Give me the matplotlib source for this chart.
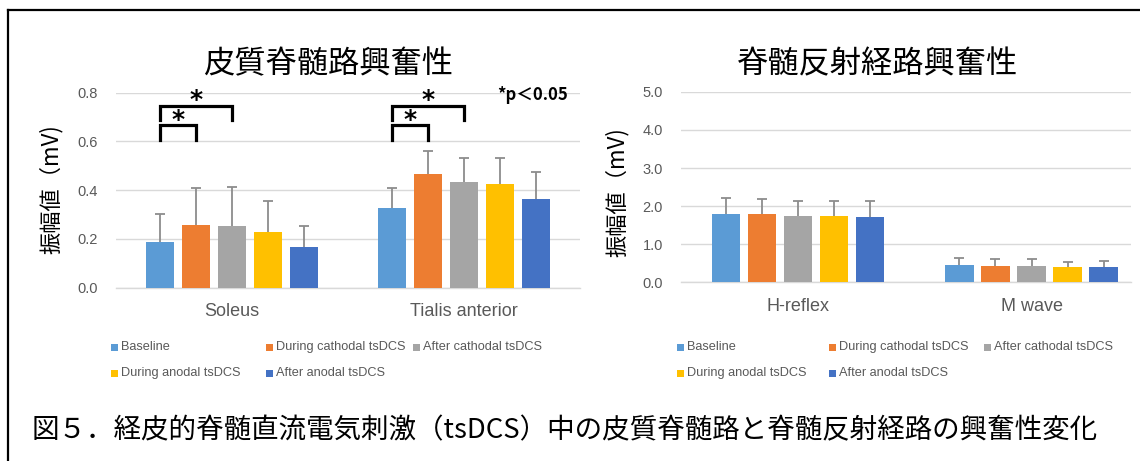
import numpy as np
import matplotlib
matplotlib.use("Agg")
import matplotlib.pyplot as plt
from matplotlib.lines import Line2D
from matplotlib.patches import Rectangle

plt.rcParams['font.family'] = ['Liberation Sans', 'Noto Sans CJK JP']

# 条件（凡例）と色
conditions = ['Baseline', 'During cathodal tsDCS', 'After cathodal tsDCS',
              'During anodal tsDCS', 'After anodal tsDCS']
colors = ['#5B9BD5', '#ED7D31', '#A5A5A5', '#FFC000', '#4472C4']

# 皮質脊髄路興奮性 (MEP 振幅, mV)  [Soleus, Tialis anterior]
cortico_labels = ['Soleus', 'Tialis anterior']
cortico_mean = [[0.186, 0.326],
                [0.259, 0.466],
                [0.255, 0.435],
                [0.227, 0.425],
                [0.166, 0.363]]
cortico_sd = [[0.117, 0.083],
              [0.150, 0.094],
              [0.157, 0.096],
              [0.127, 0.106],
              [0.089, 0.110]]

# 脊髄反射経路興奮性 (mV)  [H-reflex, M wave]
reflex_labels = ['H-reflex', 'M wave']
reflex_mean = [[1.78, 0.45],
               [1.78, 0.44],
               [1.73, 0.44],
               [1.73, 0.41],
               [1.71, 0.41]]
reflex_sd = [[0.43, 0.18],
             [0.40, 0.16],
             [0.41, 0.18],
             [0.41, 0.13],
             [0.43, 0.15]]

W, H = 1140, 461
fig = plt.figure(figsize=(W / 100, H / 100), dpi=100)


def fx(x):
    return x / W


def fy(y):
    return 1 - y / H


GRAY_TXT = '#595959'
STEP = 0.1543
BAR_W = 0.121
cjk = ['Noto Sans CJK JP', 'DejaVu Sans']


def bar_panel(ax, labels, means, sds, yticks, fmt, xlim):
    x = np.arange(len(labels))
    for i, (name, c) in enumerate(zip(conditions, colors)):
        m = np.array(means[i])
        s = np.array(sds[i])
        bc = ax.bar(x + (i - 2) * STEP, m, width=BAR_W, color=c, zorder=3,
                    yerr=[np.zeros_like(s), s],
                    error_kw=dict(ecolor='#8C8C8C', elinewidth=1.3, capsize=3.5,
                                  capthick=1.3, zorder=4))
        # 上側のみのエラーバー：下端のキャップは消す
        caps = bc.errorbar.lines[1]
        if len(caps) > 1:
            caps[0].set_visible(False)
    ax.set_xlim(*xlim)
    ax.set_ylim(yticks[0], yticks[-1])
    ax.set_yticks(yticks)
    ax.set_yticklabels([fmt.format(v) for v in yticks], fontsize=10.5,
                       color=GRAY_TXT)
    ax.set_xticks(x)
    ax.set_xticklabels(labels, fontsize=13, color=GRAY_TXT)
    ax.tick_params(axis='both', length=0)
    ax.tick_params(axis='y', pad=13)
    ax.tick_params(axis='x', pad=11)
    ax.grid(axis='y', color='#D9D9D9', lw=1.0, zorder=0)
    for sp in ['top', 'right', 'left']:
        ax.spines[sp].set_visible(False)
    ax.spines['bottom'].set_color('#D9D9D9')
    ax.spines['bottom'].set_linewidth(1.0)
    ax.set_facecolor('none')


# 左パネル
ax1 = fig.add_axes([fx(116), fy(287.7), fx(580) - fx(116), fy(92.7) - fy(287.7)])
bar_panel(ax1, cortico_labels, cortico_mean, cortico_sd,
          [0.0, 0.2, 0.4, 0.6, 0.8], '{:.1f}', (-0.5, 1.5))

# 右パネル
ax2 = fig.add_axes([fx(681), fy(282.3), fx(1131) - fx(681), fy(91.8) - fy(282.3)])
bar_panel(ax2, reflex_labels, reflex_mean, reflex_sd,
          [0.0, 1.0, 2.0, 3.0, 4.0, 5.0], '{:.1f}', (-0.501, 1.426))


# 有意差ブラケット
def bracket(ax, i0, i1, cat, y_low, y_top, star_y):
    x0 = cat + (i0 - 2) * STEP
    x1 = cat + (i1 - 2) * STEP
    ax.plot([x0, x0, x1, x1], [y_low, y_top, y_top, y_low], color='black',
            lw=2.3, solid_joinstyle='miter', clip_on=False, zorder=5)
    ax.text((x0 + x1) / 2, star_y, '*', ha='center', va='center',
            fontsize=18, fontweight='bold', family='DejaVu Sans',
            clip_on=False, zorder=5)


for cat in [0, 1]:
    bracket(ax1, 0, 1, cat, 0.604, 0.668, 0.688)
    bracket(ax1, 0, 2, cat, 0.686, 0.746, 0.770)

ax1.text(fx(533), fy(95), '*p＜0.05', transform=fig.transFigure,
         ha='center', va='center', fontsize=12, fontweight='bold', family=cjk)

# タイトル
fig.text(fx(328), fy(64), '皮質脊髄路興奮性', ha='center', va='center',
         fontsize=22.5, family=cjk)
fig.text(fx(878), fy(64), '脊髄反射経路興奮性', ha='center', va='center',
         fontsize=22.5, family=cjk)

# 縦軸ラベル
fig.text(fx(51), fy(189), '振幅値（mV)', rotation=90, ha='center',
         va='center', fontsize=16, family=cjk)
fig.text(fx(617), fy(192), '振幅値（mV)', rotation=90, ha='center',
         va='center', fontsize=16, family=cjk)


# 凡例（2 行）
def legend_row(x_marks, y, idx):
    for xm, i in zip(x_marks, idx):
        fig.patches.append(Rectangle((fx(xm), fy(y + 3.5)), 7 / W, 7 / H,
                                     transform=fig.transFigure,
                                     color=colors[i], lw=0))
        fig.text(fx(xm + 10), fy(y), conditions[i], ha='left', va='center',
                 fontsize=9.2, color=GRAY_TXT)


legend_row([111, 266, 413], 347, [0, 1, 2])
legend_row([111, 266], 373, [3, 4])
legend_row([677, 829, 984], 347, [0, 1, 2])
legend_row([677, 829], 373, [3, 4])

# 図キャプション
fig.text(fx(32), fy(431), '図５．経皮的脊髄直流電気刺激（tsDCS）中の皮質脊髄路と脊髄反射経路の興奮性変化',
         ha='left', va='center', fontsize=19.85, family=cjk)

# 枠線
fig.lines.append(Line2D([fx(8), fx(8)], [0, fy(10.5)], transform=fig.transFigure,
                        color='black', lw=1.6))
fig.lines.append(Line2D([fx(8), 1], [fy(10.5), fy(10.5)], transform=fig.transFigure,
                        color='black', lw=1.6))

fig.savefig('out.png', dpi=100)
